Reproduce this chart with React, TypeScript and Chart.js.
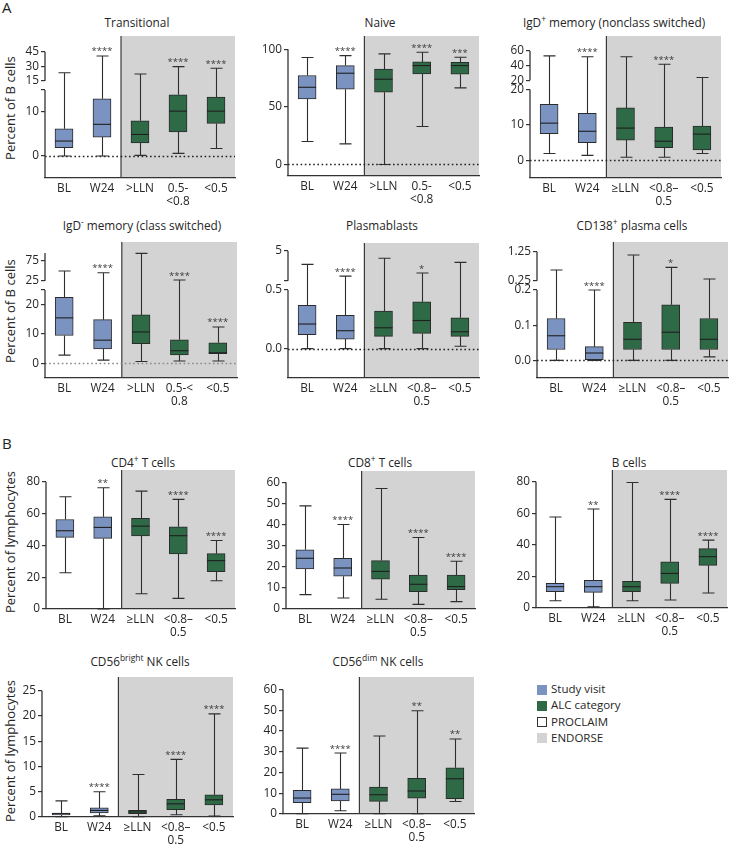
import React, { useEffect, useRef } from 'react';
import { Chart, registerables } from 'chart.js';
Chart.register(...registerables);

const FONT = '"Open Sans", "DejaVu Sans", sans-serif';
const BLUE = '#7b93c1';
const GREEN = '#2f6a47';
const GRAY = '#d3d3d3';
const INK = '#333333';
const TEXT = '#262626';

// ---------- categories ----------
const catsGT = ['BL', 'W24', '>LLN', ['0.5-', '<0.8'], '<0.5'];
const catsIgDm = ['BL', 'W24', '>LLN', ['0.5-<', '0.8'], '<0.5'];
const catsGE = ['BL', 'W24', '≥LLN', ['<0.8–', '0.5'], '<0.5'];

// ---------- box values: [min, q1, median, q3, max] ----------
const transitionalBoxes = [[0, 1.9, 3.4, 6.2, 23.5], [0, 4.3, 7.2, 13, 40.6], [0.15, 3.0, 4.9, 8.0, 22.2], [0.6, 5.5, 10.2, 13.9, 29.7], [1.7, 7.4, 10.2, 13.4, 28]];
const transitionalStars = ['', '****', '', '****', '****'];

const naiveBoxes = [[20, 57, 67, 77.2, 92.8], [17.9, 65.3, 79.2, 85.8, 94.5], [0, 62.7, 74, 82.7, 96], [33, 78.6, 85.8, 89, 97.4], [66.5, 78.3, 85.8, 88.7, 93]];
const naiveStars = ['', '****', '', '****', '***'];

const igdPlusBoxes = [[1.9, 7.5, 10.5, 15.8, 53.2], [1.4, 5.0, 8.2, 13.3, 52], [0.85, 5.7, 9.1, 14.8, 52], [0.85, 3.6, 5.4, 9.4, 41.8], [1.9, 2.9, 7.4, 9.7, 23.6]];
const igdPlusStars = ['', '****', '', '****', ''];

const igdMinusBoxes = [[2.8, 9.5, 15.5, 22.5, 50], [1.1, 4.9, 7.9, 14.9, 45.8], [0.6, 6.7, 10.7, 16.5, 94], [0.8, 2.9, 4.3, 8.0, 27.5], [0.8, 3.3, 3.6, 7.0, 12.4]];
const igdMinusStars = ['', '****', '', '****', '****'];

const plasmablastBoxes = [[0, 0.12, 0.21, 0.37, 2.97], [0, 0.082, 0.153, 0.285, 1.2], [0, 0.105, 0.178, 0.32, 3.9], [0, 0.13, 0.24, 0.4, 1.66], [0.02, 0.105, 0.144, 0.263, 3.28]];
const plasmablastStars = ['', '****', '', '*', ''];

const cd138Boxes = [[0, 0.031, 0.07, 0.119, 0.62], [0, 0.002, 0.021, 0.039, 0.2], [0, 0.031, 0.06, 0.108, 1.135], [0, 0.031, 0.08, 0.158, 0.71], [0.01, 0.031, 0.06, 0.119, 0.31]];
const cd138Stars = ['', '****', '', '*', ''];

const cd4Boxes = [[22.8, 45.0, 49.2, 56.3, 70.6], [0, 44.4, 51.3, 58.0, 76.2], [9.6, 45.9, 52.1, 57, 74.1], [6.7, 34.6, 46.1, 51.7, 68.9], [17.8, 23.5, 30.4, 34.8, 43.1]];
const cd4Stars = ['', '**', '', '****', '****'];

const cd8Boxes = [[6.8, 19, 24, 28, 48.8], [5.2, 15.5, 19.4, 24, 40], [4.6, 14.1, 17.8, 22.9, 57], [2.2, 8.2, 11.7, 16, 33.8], [3.5, 9.2, 10.6, 16, 22.6]];
const cd8Stars = ['', '****', '', '****', '****'];

const bCellBoxes = [[4.6, 10.3, 13.5, 15.6, 57.6], [0.8, 9.9, 13.5, 17.5, 62.7], [4.6, 10.3, 13.5, 16.9, 79.5], [5.1, 15.6, 21.9, 29.3, 68.8], [9.5, 27, 32.5, 37.6, 43]];
const bCellStars = ['', '**', '', '****', '****'];

const cd56BrightBoxes = [[0.05, 0.4, 0.66, 0.8, 3.2], [0.26, 0.8, 1.3, 1.8, 5.0], [0.05, 0.66, 1.0, 1.3, 8.4], [0.46, 1.45, 2.6, 3.5, 11.4], [0.2, 2.4, 3.4, 4.4, 20.4]];
const cd56BrightStars = ['', '****', '', '****', '****'];

const cd56DimBoxes = [[0.2, 5.5, 7.7, 11.4, 31.8], [1.6, 6.3, 9.5, 12.1, 29.4], [0.2, 6.1, 9.3, 13, 37.6], [0.2, 7.6, 11.1, 17.2, 49.8], [6, 7.4, 17, 22.3, 36.2]];
const cd56DimStars = ['', '****', '', '**', '**'];

// ---------- tick values / labels ----------
const transitionalLowTicks = [0, 10, 15];
const transitionalLowLabels = ['0', '10', ''];
const transitionalUpTicks = [15, 30, 45];
const transitionalUpLabels = ['15', '30', '45'];

const naiveTicks = [0, 50, 100];
const naiveTickLabels = ['0', '50', '100'];

const igdPlusLowTicks = [0, 10, 20];
const igdPlusLowLabels = ['0', '10', '20'];
const igdPlusUpTicks = [20, 40, 60];
const igdPlusUpLabels = ['20', '40', '60'];

const igdMinusLowTicks = [0, 10, 20, 25];
const igdMinusLowLabels = ['0', '10', '20', ''];
const igdMinusUpTicks = [25, 75];
const igdMinusUpLabels = ['25', '75'];

const plasmaLowTicks = [0, 0.5];
const plasmaLowLabels = ['0.0', '0.5'];
const plasmaUpTicks = [0.5, 5];
const plasmaUpLabels = ['', '5'];

const cd138LowTicks = [0, 0.1, 0.2];
const cd138LowLabels = ['0.0', '0.1', '0.2'];
const cd138UpTicks = [0.25, 1.25];
const cd138UpLabels = ['0.25', '1.25'];

const ticks0to80 = [0, 20, 40, 60, 80];
const labels0to80 = ['0', '20', '40', '60', '80'];
const ticks0to60 = [0, 10, 20, 30, 40, 50, 60];
const labels0to60 = ['0', '10', '20', '30', '40', '50', '60'];
const ticks0to25 = [0, 5, 10, 15, 20, 25];
const labels0to25 = ['0', '5', '10', '15', '20', '25'];

// ---------- panel configuration ----------
interface Broken {
  lowMin: number; lowMax: number; lowH: number; gap: number;
  upMin: number; upMax: number; upH: number;
  lowTicks: number[]; lowLabels: string[]; upTicks: number[]; upLabels: string[];
  axisTop?: number;
}
interface Linear { min: number; max: number; ticks: number[]; labels: string[] }
interface PanelCfg {
  key: string;
  cats: any[];
  boxes: number[][];
  stars: string[];
  left: number; right: number; top: number; bottom: number;
  broken?: Broken;
  linear?: Linear;
  zeroColor?: string;
}

const YW = 40, PT = 12, PR = 3, XH = 34;

const panels: PanelCfg[] = [
  {
    key: 'transitional', cats: catsGT, boxes: transitionalBoxes, stars: transitionalStars,
    left: 45, right: 235, top: 36, bottom: 178, zeroColor: '#222',
    broken: { lowMin: -5, lowMax: 15, lowH: 88, gap: 9, upMin: 15, upMax: 45, upH: 29.3,
      lowTicks: transitionalLowTicks, lowLabels: transitionalLowLabels, upTicks: transitionalUpTicks, upLabels: transitionalUpLabels },
  },
  {
    key: 'naive', cats: catsGT, boxes: naiveBoxes, stars: naiveStars,
    left: 288, right: 479, top: 36, bottom: 176, zeroColor: '#222',
    linear: { min: -10, max: 111.5, ticks: naiveTicks, labels: naiveTickLabels },
  },
  {
    key: 'igdplus', cats: catsGE, boxes: igdPlusBoxes, stars: igdPlusStars,
    left: 530, right: 721, top: 36, bottom: 178, zeroColor: '#222',
    broken: { lowMin: -5, lowMax: 20, lowH: 88.5, gap: 9.3, upMin: 20, upMax: 60, upH: 29.3,
      lowTicks: igdPlusLowTicks, lowLabels: igdPlusLowLabels, upTicks: igdPlusUpTicks, upLabels: igdPlusUpLabels },
  },
  {
    key: 'igdminus', cats: catsIgDm, boxes: igdMinusBoxes, stars: igdMinusStars,
    left: 45, right: 237, top: 242, bottom: 378, zeroColor: '#8a8a8a',
    broken: { lowMin: -5, lowMax: 25, lowH: 88, gap: 9, upMin: 25, upMax: 75, upH: 20, axisTop: 95,
      lowTicks: igdMinusLowTicks, lowLabels: igdMinusLowLabels, upTicks: igdMinusUpTicks, upLabels: igdMinusUpLabels },
  },
  {
    key: 'plasma', cats: catsGE, boxes: plasmablastBoxes, stars: plasmablastStars,
    left: 288, right: 479, top: 243, bottom: 378, zeroColor: '#222',
    broken: { lowMin: -0.25, lowMax: 0.5, lowH: 88, gap: 9.3, upMin: 0.5, upMax: 5, upH: 29.7,
      lowTicks: plasmaLowTicks, lowLabels: plasmaLowLabels, upTicks: plasmaUpTicks, upLabels: plasmaUpLabels },
  },
  {
    key: 'cd138', cats: catsGE, boxes: cd138Boxes, stars: cd138Stars,
    left: 537, right: 728, top: 242, bottom: 378, zeroColor: '#222',
    broken: { lowMin: -0.05, lowMax: 0.2, lowH: 88, gap: 9.3, upMin: 0.25, upMax: 1.25, upH: 29,
      lowTicks: cd138LowTicks, lowLabels: cd138LowLabels, upTicks: cd138UpTicks, upLabels: cd138UpLabels },
  },
  {
    key: 'cd4', cats: catsGE, boxes: cd4Boxes, stars: cd4Stars,
    left: 46, right: 235, top: 470, bottom: 609,
    linear: { min: 0, max: 87.4, ticks: ticks0to80, labels: labels0to80 },
  },
  {
    key: 'cd8', cats: catsGE, boxes: cd8Boxes, stars: cd8Stars,
    left: 286, right: 475, top: 471, bottom: 609,
    linear: { min: 0, max: 65.3, ticks: ticks0to60, labels: labels0to60 },
  },
  {
    key: 'bcells', cats: catsGE, boxes: bCellBoxes, stars: bCellStars,
    left: 536, right: 727, top: 470, bottom: 608,
    linear: { min: 0, max: 87.4, ticks: ticks0to80, labels: labels0to80 },
  },
  {
    key: 'cd56bright', cats: catsGE, boxes: cd56BrightBoxes, stars: cd56BrightStars,
    left: 42, right: 233, top: 677, bottom: 817,
    linear: { min: 0, max: 27.7, ticks: ticks0to25, labels: labels0to25 },
  },
  {
    key: 'cd56dim', cats: catsGE, boxes: cd56DimBoxes, stars: cd56DimStars,
    left: 283, right: 474, top: 677, bottom: 814,
    linear: { min: 0, max: 66.1, ticks: ticks0to60, labels: labels0to60 },
  },
];

function makeTransform(p: PanelCfg) {
  if (p.broken) {
    const b = p.broken;
    const lowT = (v: number) => ((v - b.lowMin) / (b.lowMax - b.lowMin)) * b.lowH;
    const upT = (v: number) => b.lowH + b.gap + ((v - b.upMin) / (b.upMax - b.upMin)) * b.upH;
    const T = (v: number) => (v <= b.lowMax ? lowT(v) : upT(Math.max(v, b.upMin)));
    const tickD = [...b.lowTicks.map(lowT), ...b.upTicks.map(upT)];
    const tickL = [...b.lowLabels, ...b.upLabels];
    const segs: [number, number][] = [
      [lowT(b.lowMin), lowT(b.lowMax)],
      [upT(b.upMin), upT(b.axisTop ?? b.upMax)],
    ];
    return { T, min: 0, max: p.bottom - p.top, tickD, tickL, segs };
  }
  const l = p.linear!;
  const T = (v: number) => v;
  return { T, min: l.min, max: l.max, tickD: l.ticks, tickL: l.labels, segs: [[l.min, l.ticks[l.ticks.length - 1]]] as [number, number][] };
}

function BoxChart({ p }: { p: PanelCfg }) {
  const ref = useRef<HTMLCanvasElement>(null);
  const w = p.right - p.left + YW + PR;
  const h = p.bottom - p.top + PT + XH;

  useEffect(() => {
    const tr = makeTransform(p);
    const T = tr.T;
    const colors = p.boxes.map((_, i) => (i < 2 ? BLUE : GREEN));

    const decor = {
      id: 'decor',
      beforeDraw(chart: any) {
        const { ctx, chartArea: a } = chart;
        const x = chart.scales.x;
        const gx = (x.getPixelForValue(1) + x.getPixelForValue(2)) / 2;
        ctx.save();
        ctx.fillStyle = GRAY;
        ctx.fillRect(gx, a.top, a.right - gx, a.bottom - a.top);
        ctx.restore();
      },
      beforeDatasetsDraw(chart: any) {
        const { ctx, chartArea: a } = chart;
        const x = chart.scales.x;
        const y = chart.scales.y;
        const gx = (x.getPixelForValue(1) + x.getPixelForValue(2)) / 2;
        ctx.save();
        // separator
        ctx.strokeStyle = '#3a3a3a';
        ctx.lineWidth = 1.2;
        ctx.beginPath();
        ctx.moveTo(gx, a.top);
        ctx.lineTo(gx, a.bottom);
        ctx.stroke();
        // zero dotted line
        if (p.zeroColor) {
          const zy = Math.round(y.getPixelForValue(T(0))) + 0.5;
          ctx.strokeStyle = p.zeroColor;
          ctx.lineWidth = 1.4;
          ctx.setLineDash([1.6, 2.6]);
          ctx.beginPath();
          ctx.moveTo(a.left, zy);
          ctx.lineTo(a.right, zy);
          ctx.stroke();
          ctx.setLineDash([]);
        }
        // y axis line segments
        ctx.strokeStyle = INK;
        ctx.lineWidth = 1.3;
        tr.segs.forEach(([d0, d1], i) => {
          const y0 = i === 0 ? a.bottom : y.getPixelForValue(d0);
          const y1 = y.getPixelForValue(d1);
          ctx.beginPath();
          ctx.moveTo(a.left, y0);
          ctx.lineTo(a.left, y1);
          ctx.stroke();
        });
        // whiskers and caps
        const meta = chart.getDatasetMeta(0);
        ctx.strokeStyle = '#2e2e2e';
        ctx.lineWidth = 1.1;
        p.boxes.forEach((b, i) => {
          const el = meta.data[i];
          const cx = Math.round(el.x) + 0.5;
          const cap = 6;
          const pMin = y.getPixelForValue(T(b[0]));
          const pQ1 = y.getPixelForValue(T(b[1]));
          const pQ3 = y.getPixelForValue(T(b[3]));
          const pMax = y.getPixelForValue(T(b[4]));
          ctx.beginPath();
          ctx.moveTo(cx, pMin);
          ctx.lineTo(cx, pQ1);
          ctx.moveTo(cx, pQ3);
          ctx.lineTo(cx, pMax);
          ctx.moveTo(cx - cap, pMin);
          ctx.lineTo(cx + cap, pMin);
          ctx.moveTo(cx - cap, pMax);
          ctx.lineTo(cx + cap, pMax);
          ctx.stroke();
        });
        ctx.restore();
      },
      afterDatasetsDraw(chart: any) {
        const { ctx } = chart;
        const y = chart.scales.y;
        const meta = chart.getDatasetMeta(0);
        ctx.save();
        ctx.strokeStyle = '#1f1f1f';
        ctx.lineWidth = 1.1;
        p.boxes.forEach((b, i) => {
          const el = meta.data[i];
          const half = el.width / 2;
          const my = y.getPixelForValue(T(b[2]));
          ctx.beginPath();
          ctx.moveTo(el.x - half, my);
          ctx.lineTo(el.x + half, my);
          ctx.stroke();
          const s = p.stars[i];
          if (s) {
            ctx.fillStyle = '#3a3a3a';
            ctx.font = `9.5px ${FONT}`;
            ctx.textAlign = 'center';
            ctx.textBaseline = 'alphabetic';
            ctx.fillText(s, el.x, y.getPixelForValue(T(b[4])) - 1.5);
          }
        });
        ctx.restore();
      },
    };

    const chart = new Chart(ref.current!, {
      type: 'bar',
      data: {
        labels: p.cats,
        datasets: [
          {
            data: p.boxes.map((b) => [T(b[1]), T(b[3])]) as any,
            backgroundColor: colors,
            borderColor: '#2b2b2b',
            borderWidth: 1,
            borderSkipped: false,
            barThickness: 18,
          },
        ],
      },
      options: {
        animation: false,
        responsive: false,
        maintainAspectRatio: false,
        events: [],
        layout: { padding: { top: PT, right: PR, left: 0, bottom: 0 } },
        plugins: { legend: { display: false }, tooltip: { enabled: false } },
        scales: {
          x: {
            grid: { display: false, drawTicks: false },
            border: { display: true, color: INK, width: 1.3 },
            ticks: { color: TEXT, font: { family: FONT, size: 11.8, lineHeight: 1.1 }, padding: 4, maxRotation: 0, autoSkip: false },
            afterFit: (s: any) => { s.height = XH; },
          },
          y: {
            min: tr.min,
            max: tr.max,
            grid: { display: true, drawOnChartArea: false, drawTicks: true, tickLength: 4, color: INK, lineWidth: 1.2 },
            border: { display: false },
            ticks: {
              color: TEXT,
              font: { family: FONT, size: 11.8 },
              padding: 2,
              autoSkip: false,
              callback: (_v: any, i: number) => tr.tickL[i],
            },
            afterBuildTicks: (s: any) => { s.ticks = tr.tickD.map((v) => ({ value: v })); },
            afterFit: (s: any) => { s.width = YW; },
          },
        },
      },
      plugins: [decor],
    } as any);
    return () => chart.destroy();
  }, [p]);

  return (
    <canvas
      ref={ref}
      width={w}
      height={h}
      style={{ position: 'absolute', left: p.left - YW, top: p.top - PT, width: w, height: h }}
    />
  );
}

const supStyle: React.CSSProperties = { fontSize: '0.72em', verticalAlign: 'super', lineHeight: 0 };

const titles: { cx: number; base: number; node: React.ReactNode }[] = [
  { cx: 137, base: 27.3, node: <>Transitional</> },
  { cx: 380, base: 27.3, node: <>Naive</> },
  { cx: 614, base: 27.3, node: <>IgD<sup style={supStyle}>+</sup> memory (nonclass switched)</> },
  { cx: 142, base: 229.7, node: <>IgD<sup style={supStyle}>-</sup> memory (class switched)</> },
  { cx: 382, base: 229.7, node: <>Plasmablasts</> },
  { cx: 632, base: 229.7, node: <>CD138<sup style={supStyle}>+</sup> plasma cells</> },
  { cx: 143, base: 467.3, node: <>CD4<sup style={supStyle}>+</sup> T cells</> },
  { cx: 380, base: 467.3, node: <>CD8<sup style={supStyle}>+</sup> T cells</> },
  { cx: 629, base: 467.3, node: <>B cells</> },
  { cx: 140, base: 665.7, node: <>CD56<sup style={supStyle}>bright</sup> NK cells</> },
  { cx: 378, base: 665.7, node: <>CD56<sup style={supStyle}>dim</sup> NK cells</> },
];

const yTitles: { cy: number; text: string }[] = [
  { cy: 108, text: 'Percent of B cells' },
  { cy: 311, text: 'Percent of B cells' },
  { cy: 542, text: 'Percent of lymphocytes' },
  { cy: 751, text: 'Percent of lymphocytes' },
];

const legendItems = [
  { label: 'Study visit', fill: BLUE, border: BLUE },
  { label: 'ALC category', fill: GREEN, border: GREEN },
  { label: 'PROCLAIM', fill: '#ffffff', border: '#333' },
  { label: 'ENDORSE', fill: GRAY, border: GRAY },
];

export default function App() {
  const titleSize = 11.8;
  return (
    <div style={{ position: 'absolute', left: 0, top: 0, width: 730, height: 846, overflow: 'hidden', background: '#fff', fontFamily: FONT, color: TEXT }}>
      <div style={{ position: 'absolute', left: 2, top: 13.3 - 16.3, fontSize: 15, lineHeight: '21px', color: '#222' }}>A</div>
      <div style={{ position: 'absolute', left: 2, top: 449.3 - 16.3, fontSize: 15, lineHeight: '21px', color: '#222' }}>B</div>
      {titles.map((t, i) => (
        <div
          key={i}
          style={{
            position: 'absolute', left: t.cx - 150, width: 300, textAlign: 'center',
            top: t.base - titleSize * 1.088, fontSize: titleSize, lineHeight: `${titleSize * 1.4}px`, whiteSpace: 'nowrap',
          }}
        >
          {t.node}
        </div>
      ))}
      {yTitles.map((t, i) => (
        <div
          key={i}
          style={{
            position: 'absolute', left: 10 - 100, top: t.cy - 9.1, width: 200, height: 18.2,
            lineHeight: '18.2px', fontSize: 13, textAlign: 'center', transform: 'rotate(-90deg)', whiteSpace: 'nowrap',
          }}
        >
          {t.text}
        </div>
      ))}
      {panels.map((p) => (
        <BoxChart key={p.key} p={p} />
      ))}
      {legendItems.map((it, i) => {
        const cy = [690, 706, 722.3, 738.3][i];
        return (
          <React.Fragment key={it.label}>
            <div style={{ position: 'absolute', left: 537, top: cy - 5, width: 8, height: 8, background: it.fill, border: `1px solid ${it.border}` }} />
            <div style={{ position: 'absolute', left: 551, top: cy + 4 - 11.5 * 1.088, fontSize: 11.5, lineHeight: `${11.5 * 1.4}px`, whiteSpace: 'nowrap' }}>
              {it.label}
            </div>
          </React.Fragment>
        );
      })}
    </div>
  );
}
